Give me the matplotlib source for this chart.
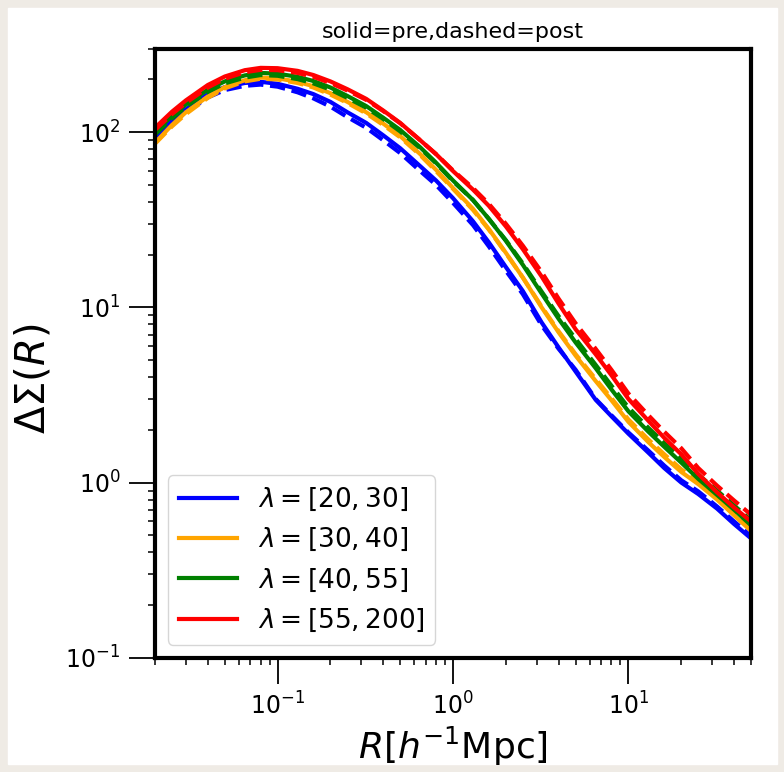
import matplotlib
matplotlib.use("Agg")
import matplotlib.pyplot as plt
from matplotlib.patches import Rectangle

# radius grid [h^-1 Mpc]
R = [0.02, 0.025, 0.03, 0.04, 0.05, 0.065, 0.08, 0.1, 0.13, 0.16, 0.2, 0.25,
     0.32, 0.4, 0.5, 0.65, 0.8, 1.0, 1.3, 1.6, 2.0, 2.5, 3.2, 4.0, 5.0, 6.5,
     8.0, 10, 13, 16, 20, 25, 32, 40, 50]

# Delta Sigma, solid = pre
pre_20_30 = [93, 117, 135, 165, 181, 191, 194, 189, 177, 165, 149, 130, 113, 96,
             81, 64, 53, 42, 31, 23.5, 17, 12.4, 8.2, 5.9, 4.3, 2.97, 2.39, 1.9,
             1.48, 1.21, 1.0, 0.86, 0.71, 0.58, 0.48]
pre_30_40 = [87, 110, 130, 160, 181, 198, 205, 203, 194, 183, 167, 149, 130, 112,
             95, 75, 61, 48, 36.5, 28, 20.5, 14.8, 10.0, 7.2, 5.3, 3.8, 2.95, 2.22,
             1.7, 1.4, 1.15, 0.98, 0.80, 0.65, 0.53]
pre_40_55 = [100, 124, 144, 175, 195, 211, 218, 216, 207, 196, 180, 161, 141, 121,
             103, 82, 67, 53, 41, 32, 24, 17.5, 12, 8.6, 6.3, 4.5, 3.4, 2.55, 1.95,
             1.6, 1.3, 1.05, 0.85, 0.70, 0.57]
pre_55_200 = [106, 131, 152, 186, 208, 226, 233, 232, 224, 212, 195, 176, 155, 133,
              113, 90, 75, 60, 47, 38, 29, 21.5, 15, 10.5, 7.5, 5.4, 4.1, 3.0, 2.25,
              1.8, 1.45, 1.12, 0.88, 0.72, 0.60]

# dashed = post
post_20_30 = [90, 112, 130, 158, 174, 184, 187, 182, 169, 156, 140, 122, 106, 90,
              76, 60, 50, 39.5, 29.5, 22.3, 16.2, 11.9, 7.9, 5.8, 4.4, 3.0, 2.42,
              1.93, 1.52, 1.25, 1.03, 0.89, 0.73, 0.60, 0.495]
post_30_40 = [86, 108, 127, 157, 178, 195, 202, 200, 191, 180, 164, 147, 128, 110,
              93.5, 74, 60, 47.5, 36, 27.8, 20.4, 14.8, 10.1, 7.3, 5.4, 3.9, 3.03,
              2.29, 1.76, 1.45, 1.19, 1.01, 0.83, 0.68, 0.55]
post_40_55 = [97, 120, 140, 170, 190, 205, 212, 210, 201, 190, 175, 157, 138, 119,
              101, 81, 66.5, 52.5, 41, 32, 24.2, 17.8, 12.3, 8.9, 6.6, 4.7, 3.57,
              2.68, 2.05, 1.68, 1.37, 1.11, 0.90, 0.74, 0.61]
post_55_200 = [103, 127, 147, 180, 202, 220, 227, 226, 218, 207, 191, 173, 153, 132,
               112.5, 90, 75, 60.5, 48, 39, 30, 22.5, 15.9, 11.2, 8.1, 5.8, 4.4,
               3.22, 2.42, 1.95, 1.57, 1.21, 0.96, 0.79, 0.655]

bins = [(20, 30), (30, 40), (40, 55), (55, 200)]
colors = ["blue", "orange", "green", "red"]
pre = [pre_20_30, pre_30_40, pre_40_55, pre_55_200]
post = [post_20_30, post_30_40, post_40_55, post_55_200]

fig = plt.figure(figsize=(7.84, 7.72), dpi=100, facecolor="#efebe5")
fig.patches.append(Rectangle((8 / 784, 8 / 772), 769 / 784, 756 / 772,
                             transform=fig.transFigure, color="white", zorder=-1))
ax = fig.add_axes([0.1977, 0.148, 0.7603, 0.789])

for (lo, hi), c, s, d in zip(bins, colors, pre, post):
    ax.plot(R, s, "-", color=c, lw=3, label=rf"$\lambda=[{lo},{hi}]$")
    ax.plot(R, d, "--", color=c, lw=3)

ax.set_xscale("log")
ax.set_yscale("log")
ax.set_xlim(0.02, 50)
ax.set_ylim(0.1, 300)

for sp in ax.spines.values():
    sp.set_linewidth(3)
ax.tick_params(which="major", length=19, width=1.3, labelsize=17, pad=6)
ax.tick_params(which="minor", length=5, width=1.1)

ax.set_xlabel(r"$R[h^{-1}\mathrm{Mpc}]$", fontsize=26)
ax.set_ylabel(r"$\Delta\Sigma(R)$", fontsize=29)
ax.yaxis.set_label_coords(-0.17, 0.458)
ax.set_title("solid=pre,dashed=post", fontsize=16, pad=8)

ax.legend(loc="lower left", fontsize=19, handlelength=2.2, labelspacing=0.5)

fig.savefig("out.png", dpi=100, facecolor=fig.get_facecolor())
